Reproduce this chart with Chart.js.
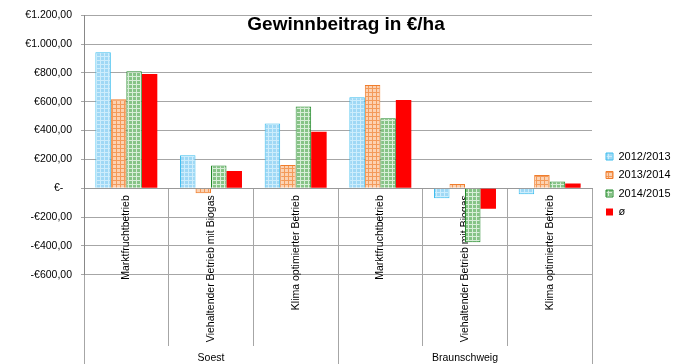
<!DOCTYPE html>
<html lang="de">
<head>
<meta charset="utf-8">
<title>Gewinnbeitrag in €/ha</title>
<script src="https://cdn.jsdelivr.net/npm/chart.js@4.4.1/dist/chart.umd.min.js"></script>
<style>
  html, body { margin: 0; padding: 0; background: #fff; }
  #wrap { position: relative; width: 675px; height: 364px; }
</style>
</head>
<body>
<div id="wrap"><canvas id="chart-gewinn"></canvas></div>
<script>
const TITLE = "Gewinnbeitrag in €/ha";

const BETRIEBE = [
  "Marktfruchtbetrieb",
  "Viehaltender Betrieb mit Biogas",
  "Klima optimierter Betrieb",
  "Marktfruchtbetrieb",
  "Viehaltender Betrieb mit Biogas",
  "Klima optimierter Betrieb",
];
const STANDORTE = ["Soest", "Braunschweig"];

const WERTE_2012 = [943, 229, 450, 631, -69, -42];
const WERTE_2013 = [617, -35, 162, 716, 30, 92];
const WERTE_2014 = [811, 157, 568, 485, -374, 46];
const WERTE_AVG = [792, 120, 392, 612, -143, 32];

const Y_TICKS = [-600, -400, -200, 0, 200, 400, 600, 800, 1000, 1200];

Chart.defaults.font.family = "'Liberation Sans', Arial, sans-serif";
Chart.defaults.color = "#000";

// small grid fill like the office chart patterns
function gridPattern(bg, line) {
  const c = document.createElement("canvas");
  c.width = 4;
  c.height = 4;
  const g = c.getContext("2d");
  g.fillStyle = bg;
  g.fillRect(0, 0, 4, 4);
  g.fillStyle = line;
  g.fillRect(0, 0, 4, 1);
  g.fillRect(0, 0, 1, 4);
  return g.createPattern(c, "repeat");
}

function euro(v) {
  if (v === 0) return "€-   ";
  const abs = Math.abs(v);
  const int = String(Math.floor(abs)).replace(/\B(?=(\d{3})+(?!\d))/g, ".");
  return (v < 0 ? "-€" : "€") + int + ",00";
}

const titlePlugin = {
  id: "chartTitle",
  afterDraw(chart) {
    const ctx = chart.ctx;
    ctx.save();
    ctx.font = "bold 19px 'Liberation Sans', Arial, sans-serif";
    ctx.fillStyle = "#000";
    ctx.textAlign = "center";
    ctx.textBaseline = "alphabetic";
    ctx.fillText(TITLE, 346, 29.5);
    ctx.restore();
  },
};

const GRID = "#a6a6a6";

// empty spacer axes, only used to reserve room
const spacer = (pos, size) => ({
  type: pos === "top" ? "category" : "linear",
  position: pos,
  grid: { display: false },
  border: { display: false },
  ticks: { display: false },
  afterFit: (s) => {
    if (pos === "top") s.height = size;
    else s.width = size;
  },
});

new Chart(document.getElementById("chart-gewinn"), {
  type: "bar",
  data: {
    labels: BETRIEBE,
    datasets: [
      {
        label: "2012/2013",
        data: WERTE_2012,
        backgroundColor: gridPattern("#9fd8f5", "#cdedfc"),
        borderColor: "#3cbdee",
        borderWidth: 1,
      },
      {
        label: "2013/2014",
        data: WERTE_2013,
        backgroundColor: gridPattern("#fcd2b2", "#f39a5a"),
        borderColor: "#f07d2c",
        borderWidth: 1,
      },
      {
        label: "2014/2015",
        data: WERTE_2014,
        backgroundColor: gridPattern("#86c386", "#d8eed8"),
        borderColor: "#22892a",
        borderWidth: 1,
      },
      {
        label: "ø",
        data: WERTE_AVG,
        backgroundColor: "#ff0000",
        borderColor: "#ff0000",
        borderWidth: 0,
      },
    ],
  },
  options: {
    responsive: true,
    maintainAspectRatio: false,
    animation: false,
    datasets: { bar: { categoryPercentage: 0.732, barPercentage: 1 } },
    layout: { padding: { top: 4.5, right: 4.5, bottom: 0, left: 0 } },
    plugins: {
      tooltip: { enabled: false },
      legend: {
        position: "right",
        align: "center",
        maxWidth: 72,
        labels: {
          boxWidth: 7,
          boxHeight: 7,
          padding: 7.5,
          color: "#000",
          font: { size: 11 },
        },
      },
    },
    scales: {
      x: {
        type: "category",
        position: { y: 0 },
        offset: true,
        grid: {
          offset: true,
          drawOnChartArea: false,
          drawTicks: true,
          tickLength: 157,
          color: GRID,
        },
        border: { display: true, color: "#999" },
        ticks: {
          autoSkip: false,
          minRotation: 90,
          maxRotation: 90,
          padding: -150,
          font: { size: 10.5 },
        },
      },
      x2: {
        type: "category",
        labels: STANDORTE,
        position: "bottom",
        offset: true,
        grid: {
          offset: true,
          drawOnChartArea: false,
          tickLength: 89.3,
          color: GRID,
        },
        border: { display: false },
        ticks: { autoSkip: false, maxRotation: 0, padding: -12, font: { size: 10.5 } },
        afterFit: (s) => { s.height = 89.3; },
      },
      xTop: spacer("top", 10.5),
      y: {
        min: -600,
        max: 1200,
        afterBuildTicks: (s) => { s.ticks = Y_TICKS.map((v) => ({ value: v })); },
        grid: { color: GRID, tickLength: 3 },
        border: { color: "#888" },
        ticks: { padding: 9, font: { size: 10.5 }, callback: euro },
        afterFit: (s) => { s.width = 84; },
      },
      yR: spacer("right", 6.5),
    },
  },
  plugins: [titlePlugin],
});
</script>
</body>
</html>
